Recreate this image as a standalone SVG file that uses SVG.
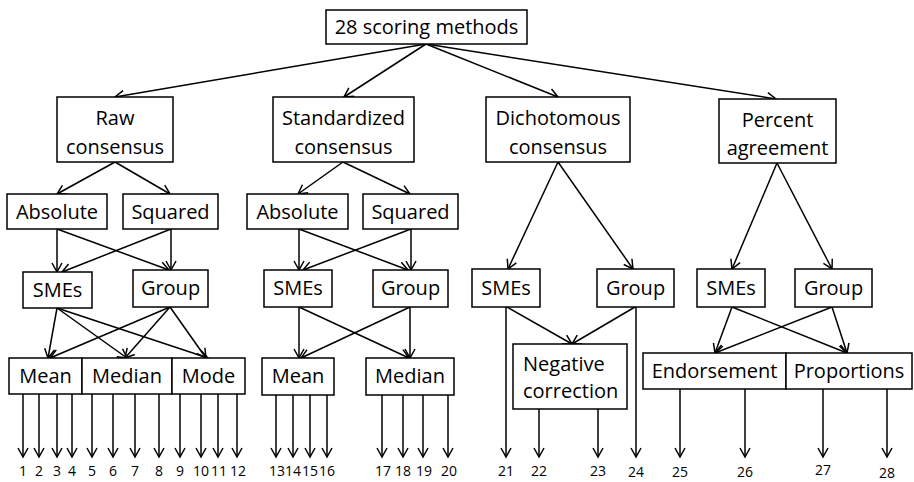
<svg xmlns="http://www.w3.org/2000/svg" width="914" height="482" viewBox="0 0 914 482">
<style>
rect{fill:#fff;stroke:#000;stroke-width:1.5}
text{font-family:"Open Sans","Noto Sans",sans-serif;font-size:20px;fill:#000;text-anchor:middle}
text.n{font-size:14px}
#connectors path{fill:none;stroke:#000;stroke-width:1.5;marker-end:url(#ah)}
</style>
<defs>
<marker id="ah" markerUnits="userSpaceOnUse" viewBox="-11 -7 13 14" refX="0" refY="0" markerWidth="13" markerHeight="14" orient="auto">
<path d="M-9,-5 L0,0 L-9,5" fill="none" stroke="#000" stroke-width="1.5"/>
</marker>
</defs>
<rect x="0" y="0" width="914" height="482" style="fill:#fff;stroke:none"/>
<g id="connectors">
<path d="M426,44 L115,97"/>
<path d="M426,44 L344,97"/>
<path d="M426,44 L558,97"/>
<path d="M426,44 L776,99"/>
<!-- raw -->
<path d="M115,162 L57,194"/>
<path d="M115,162 L170,194"/>
<path d="M57,229 L57,272"/>
<path d="M57,229 L169,270"/>
<path d="M171,229 L62,272"/>
<path d="M171,229 L171,270"/>
<path d="M57,308 L48,358"/>
<path d="M57,308 L127,358"/>
<path d="M57,308 L208,358"/>
<path d="M170,307 L50,358"/>
<path d="M170,307 L125,358"/>
<path d="M170,307 L206,358"/>
<!-- std -->
<path d="M343,162 L298,194"/>
<path d="M343,162 L410,194"/>
<path d="M299,229 L299,270"/>
<path d="M299,229 L408,270"/>
<path d="M411,229 L303,270"/>
<path d="M411,229 L411,270"/>
<path d="M299,307 L299,358"/>
<path d="M299,307 L409,358"/>
<path d="M410,307 L410,358"/>
<path d="M410,307 L301,358"/>
<!-- dich -->
<path d="M558,162 L508,269"/>
<path d="M558,162 L633,269"/>
<path d="M507,307 L572,344"/>
<path d="M635,307 L572,344"/>
<!-- pct -->
<path d="M777,163 L732,269"/>
<path d="M777,163 L832,269"/>
<path d="M732,307 L715,353"/>
<path d="M732,307 L847,353"/>
<path d="M832,307 L715,353"/>
<path d="M832,307 L847,353"/>
<!-- down arrows -->
<path d="M23,394 V457"/>
<path d="M39,394 V457"/>
<path d="M57,394 V457"/>
<path d="M72,394 V457"/>
<path d="M92,394 V457"/>
<path d="M113,394 V457"/>
<path d="M135,394 V457"/>
<path d="M159,394 V457"/>
<path d="M180,394 V457"/>
<path d="M201,394 V457"/>
<path d="M218,394 V457"/>
<path d="M237,394 V457"/>
<path d="M276,395 V457"/>
<path d="M293,395 V457"/>
<path d="M310,395 V457"/>
<path d="M327,395 V457"/>
<path d="M382,395 V457"/>
<path d="M403,395 V457"/>
<path d="M423,395 V457"/>
<path d="M448,395 V457"/>
<path d="M506,307 V457"/>
<path d="M539,409 V457"/>
<path d="M598,409 V457"/>
<path d="M636,307 V457"/>
<path d="M680,389 V457"/>
<path d="M745,389 V457"/>
<path d="M823,389 V457"/>
<path d="M887,389 V457"/>
</g>
<g id="root"><rect x="326" y="10" width="201" height="34"/><text x="426.5" y="34">28 scoring methods</text></g>
<g id="raw"><rect x="57" y="97" width="116" height="65"/><text x="115" y="125">Raw</text><text x="115" y="154">consensus</text></g>
<g id="std"><rect x="273" y="97" width="141" height="65"/><text x="343.5" y="125">Standardized</text><text x="343.5" y="154">consensus</text></g>
<g id="dich"><rect x="486" y="97" width="144" height="65"/><text x="558" y="125">Dichotomous</text><text x="558" y="154">consensus</text></g>
<g id="pct"><rect x="719" y="99" width="117" height="64"/><text x="777.5" y="127">Percent</text><text x="777.5" y="155">agreement</text></g>
<g id="raw-abs"><rect x="7" y="194" width="100" height="35"/><text x="57" y="219">Absolute</text></g>
<g id="raw-sq"><rect x="123" y="194" width="95" height="35"/><text x="170.5" y="219">Squared</text></g>
<g id="raw-smes"><rect x="23" y="272" width="69" height="36"/><text x="57.5" y="297">SMEs</text></g>
<g id="raw-group"><rect x="133" y="270" width="75" height="37"/><text x="170.5" y="295">Group</text></g>
<g id="raw-mean"><rect x="9" y="358" width="73" height="36"/><text x="45.5" y="383">Mean</text></g>
<g id="raw-median"><rect x="82" y="358" width="90" height="36"/><text x="127" y="383">Median</text></g>
<g id="raw-mode"><rect x="172" y="358" width="73" height="36"/><text x="208.5" y="383">Mode</text></g>
<g id="std-abs"><rect x="247" y="194" width="101" height="35"/><text x="297.5" y="219">Absolute</text></g>
<g id="std-sq"><rect x="363" y="194" width="95" height="35"/><text x="410.5" y="219">Squared</text></g>
<g id="std-smes"><rect x="264" y="270" width="68" height="37"/><text x="298" y="295">SMEs</text></g>
<g id="std-group"><rect x="373" y="270" width="75" height="37"/><text x="410.5" y="295">Group</text></g>
<g id="std-mean"><rect x="262" y="358" width="72" height="37"/><text x="298" y="383">Mean</text></g>
<g id="std-median"><rect x="366" y="358" width="88" height="37"/><text x="410" y="383">Median</text></g>
<g id="dich-smes"><rect x="472" y="269" width="68" height="38"/><text x="506" y="295">SMEs</text></g>
<g id="dich-group"><rect x="597" y="269" width="77" height="38"/><text x="635.5" y="295">Group</text></g>
<g id="dich-neg"><rect x="513" y="344" width="114" height="65"/><text x="523" y="371" style="text-anchor:start">Negative</text><text x="523" y="398" style="text-anchor:start">correction</text></g>
<g id="pct-smes"><rect x="697" y="269" width="68" height="38"/><text x="731" y="295">SMEs</text></g>
<g id="pct-group"><rect x="795" y="269" width="77" height="38"/><text x="833.5" y="295">Group</text></g>
<g id="pct-end"><rect x="643" y="353" width="143" height="36"/><text x="714.5" y="378">Endorsement</text></g>
<g id="pct-prop"><rect x="786" y="353" width="126" height="36"/><text x="849" y="378">Proportions</text></g>
<g id="labels">
<text class="n" x="23" y="476">1</text>
<text class="n" x="39" y="476">2</text>
<text class="n" x="57" y="476">3</text>
<text class="n" x="72" y="476">4</text>
<text class="n" x="92" y="476">5</text>
<text class="n" x="113" y="476">6</text>
<text class="n" x="135" y="476">7</text>
<text class="n" x="159" y="476">8</text>
<text class="n" x="180" y="476">9</text>
<text class="n" x="201" y="476">10</text>
<text class="n" x="219" y="476">11</text>
<text class="n" x="238" y="476">12</text>
<text class="n" x="277" y="476">13</text>
<text class="n" x="293" y="476">14</text>
<text class="n" x="310" y="476">15</text>
<text class="n" x="327" y="476">16</text>
<text class="n" x="383" y="476">17</text>
<text class="n" x="403" y="476">18</text>
<text class="n" x="424" y="476">19</text>
<text class="n" x="449" y="476">20</text>
<text class="n" x="506" y="476">21</text>
<text class="n" x="539" y="476">22</text>
<text class="n" x="598" y="476">23</text>
<text class="n" x="636" y="477">24</text>
<text class="n" x="680" y="477">25</text>
<text class="n" x="745" y="477">26</text>
<text class="n" x="823" y="475">27</text>
<text class="n" x="887" y="478">28</text>
</g>
</svg>
